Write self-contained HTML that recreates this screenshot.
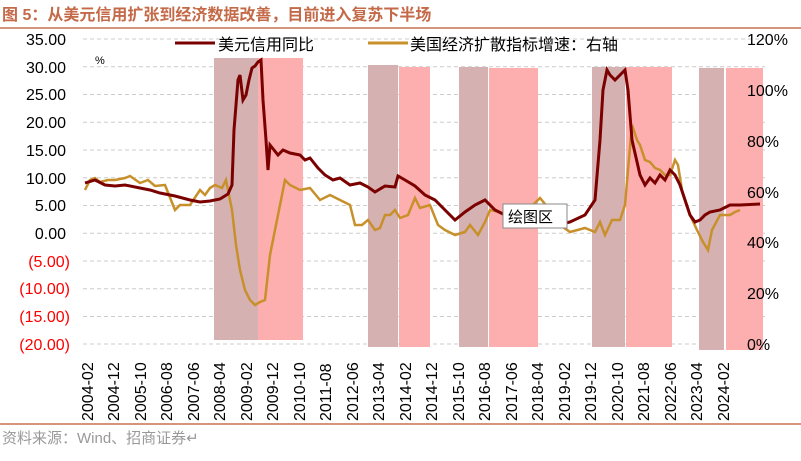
<!DOCTYPE html>
<html><head><meta charset="utf-8"><style>
body{margin:0;background:#fff;}
svg text{font-family:"Liberation Sans","Noto Sans CJK SC",sans-serif;}
</style></head><body>
<svg width="801" height="456" viewBox="0 0 801 456" xmlns="http://www.w3.org/2000/svg">
<text x="2" y="20" font-size="16" font-weight="bold" fill="#c46a48" font-family="'Noto Serif CJK SC','Liberation Serif',serif">图 5：从美元信用扩张到经济数据改善，目前进入复苏下半场</text>
<line x1="0" y1="28" x2="801" y2="28" stroke="#c87050" stroke-width="1.5"/>
<g stroke="#ccc" stroke-dasharray="4,3" stroke-width="1">
<line x1="83" x2="765" y1="39" y2="39"/><line x1="83" x2="765" y1="66.7" y2="66.7"/><line x1="83" x2="765" y1="94.5" y2="94.5"/><line x1="83" x2="765" y1="122.2" y2="122.2"/><line x1="83" x2="765" y1="150" y2="150"/><line x1="83" x2="765" y1="177.7" y2="177.7"/><line x1="83" x2="765" y1="205.5" y2="205.5"/><line x1="83" x2="765" y1="233.2" y2="233.2"/><line x1="83" x2="765" y1="261" y2="261"/><line x1="83" x2="765" y1="288.7" y2="288.7"/><line x1="83" x2="765" y1="316.5" y2="316.5"/><line x1="83" x2="765" y1="344" y2="344"/>
</g>
<g fill="#d6b1b1"><rect x="214" y="58" width="44" height="282"/><rect x="368" y="65" width="30" height="282"/><rect x="459" y="67" width="29" height="280"/><rect x="592" y="67" width="33" height="280"/><rect x="699" y="68" width="25" height="282"/></g>
<g fill="#fdaeae"><rect x="258" y="58" width="45" height="282"/><rect x="399" y="67" width="31" height="280"/><rect x="489" y="68" width="49" height="279"/><rect x="626" y="67" width="46" height="280"/><rect x="726" y="68" width="37" height="282"/></g>
<polyline fill="none" stroke="#c8902a" stroke-width="2.5" points="85,190 90,180 95,178 100,182 108,180 115,180 125,178 130,176 140,183 148,180 155,186 165,185 175,210 180,205 190,205 200,190 205,195 210,188 215,185 222,188 226,180 228,190 232,210 236,245 240,270 245,290 250,300 255,305 260,302 265,300 270,255 280,205 285,180 290,185 300,190 310,188 320,200 330,195 340,200 350,205 355,225 362,225 368,220 375,230 380,228 385,215 390,215 395,210 400,218 408,215 415,198 420,208 430,205 438,225 445,230 455,235 465,232 470,225 478,235 485,222 490,210 500,212 510,220 520,205 530,208 540,198 550,210 560,225 570,232 585,228 595,232 600,222 605,235 612,220 620,220 625,205 628,170 632,125 637,140 640,145 645,160 650,162 655,168 660,170 665,175 670,175 675,160 678,165 682,190 690,215 697,230 703,242 708,250 712,230 720,215 730,215 735,212 740,210"/>
<polyline fill="none" stroke="#7b0000" stroke-width="3" points="85,183 95,180 105,185 115,186 125,185 140,188 150,190 160,193 175,196 190,200 200,202 210,201 220,199 228,194 232,185 234,130 238,80 240,75 243,100 246,95 249,80 252,68 255,66 258,62 261,60 263,100 266,140 268,170 270,145 274,150 278,155 283,150 290,153 300,155 305,160 310,158 318,168 325,175 333,180 340,178 350,185 360,183 368,187 375,192 385,186 395,187 398,176 405,180 415,186 425,195 435,200 445,210 455,220 465,212 475,205 485,200 495,210 505,215 515,218 525,225 540,222 555,226 570,222 585,215 595,200 600,140 603,90 607,70 610,75 615,80 620,75 625,70 628,90 632,140 640,175 645,185 650,178 655,183 660,175 665,180 670,170 675,175 680,185 685,200 690,215 695,222 700,220 705,215 710,212 720,210 730,205 740,205 760,204"/>
<rect x="503" y="204" width="64" height="24" fill="#fff" stroke="#888"/>
<text x="508" y="222" font-size="15">绘图区</text>
<line x1="175" y1="43" x2="215" y2="43" stroke="#7b0000" stroke-width="3"/>
<text x="218" y="50" font-size="16">美元信用同比</text>
<line x1="368" y1="43" x2="408" y2="43" stroke="#c8902a" stroke-width="3"/>
<text x="410" y="50" font-size="16">美国经济扩散指标增速：右轴</text>
<text x="95" y="64" font-size="11">%</text>
<g font-size="16" text-anchor="end">
<text x="66" y="45">35.00</text><text x="66" y="73">30.00</text><text x="66" y="100">25.00</text><text x="66" y="128">20.00</text><text x="66" y="156">15.00</text><text x="66" y="184">10.00</text><text x="66" y="211">5.00</text><text x="66" y="239">0.00</text>
<g fill="#f00"><text x="70" y="267">(5.00)</text><text x="70" y="294">(10.00)</text><text x="70" y="322">(15.00)</text><text x="70" y="350">(20.00)</text></g>
</g>
<g font-size="16"><text x="747" y="45">120%</text><text x="747" y="96">100%</text><text x="747" y="147">80%</text><text x="747" y="198">60%</text><text x="747" y="248">40%</text><text x="747" y="299">20%</text><text x="747" y="350">0%</text></g>
<g font-size="16">
<text transform="translate(93,421) rotate(-90)">2004-02</text><text transform="translate(119,421) rotate(-90)">2004-12</text><text transform="translate(146,421) rotate(-90)">2005-10</text><text transform="translate(172,421) rotate(-90)">2006-08</text><text transform="translate(199,421) rotate(-90)">2007-06</text><text transform="translate(225,421) rotate(-90)">2008-04</text><text transform="translate(252,421) rotate(-90)">2009-02</text><text transform="translate(278,421) rotate(-90)">2009-12</text><text transform="translate(305,421) rotate(-90)">2010-10</text><text transform="translate(331,421) rotate(-90)">2011-08</text><text transform="translate(358,421) rotate(-90)">2012-06</text><text transform="translate(384,421) rotate(-90)">2013-04</text><text transform="translate(411,421) rotate(-90)">2014-02</text><text transform="translate(437,421) rotate(-90)">2014-12</text><text transform="translate(464,421) rotate(-90)">2015-10</text><text transform="translate(490,421) rotate(-90)">2016-08</text><text transform="translate(517,421) rotate(-90)">2017-06</text><text transform="translate(543,421) rotate(-90)">2018-04</text><text transform="translate(570,421) rotate(-90)">2019-02</text><text transform="translate(596,421) rotate(-90)">2019-12</text><text transform="translate(623,421) rotate(-90)">2020-10</text><text transform="translate(649,421) rotate(-90)">2021-08</text><text transform="translate(676,421) rotate(-90)">2022-06</text><text transform="translate(702,421) rotate(-90)">2023-04</text><text transform="translate(729,421) rotate(-90)">2024-02</text>
</g>
<line x1="0" y1="424" x2="801" y2="424" stroke="#c87050" stroke-width="1.5"/>
<text x="2" y="443" font-size="15" fill="#999">资料来源：Wind、招商证券↵</text>
</svg>
</body></html>
